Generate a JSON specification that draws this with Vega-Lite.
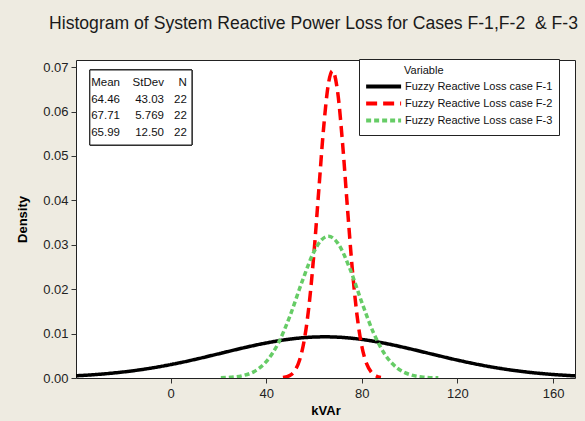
{
  "$schema": "https://vega.github.io/schema/vega-lite/v6.json",
  "width": 499,
  "height": 318,
  "autosize": {"type": "none"},
  "padding": {"left": 76, "top": 60, "right": 10, "bottom": 43},
  "background": "#EEEBE1",
  "title": {
    "text": "Histogram of System Reactive Power Loss for Cases F-1,F-2\u00a0 & F-3",
    "anchor": "middle",
    "font": "Liberation Sans",
    "fontSize": 17.6,
    "fontWeight": "normal",
    "color": "#1a1a1a",
    "offset": 26,
    "dx": -12
  },
  "datasets": {
    "curves": [
      {"case": "Fuzzy Reactive Loss case F-1", "x": -40, "d": 0.000487},
      {"case": "Fuzzy Reactive Loss case F-1", "x": -30, "d": 0.000833},
      {"case": "Fuzzy Reactive Loss case F-1", "x": -20, "d": 0.001351},
      {"case": "Fuzzy Reactive Loss case F-1", "x": -10, "d": 0.002075},
      {"case": "Fuzzy Reactive Loss case F-1", "x": 0, "d": 0.003019},
      {"case": "Fuzzy Reactive Loss case F-1", "x": 10, "d": 0.004162},
      {"case": "Fuzzy Reactive Loss case F-1", "x": 20, "d": 0.005436},
      {"case": "Fuzzy Reactive Loss case F-1", "x": 30, "d": 0.006728},
      {"case": "Fuzzy Reactive Loss case F-1", "x": 40, "d": 0.007888},
      {"case": "Fuzzy Reactive Loss case F-1", "x": 50, "d": 0.008762},
      {"case": "Fuzzy Reactive Loss case F-1", "x": 60, "d": 0.009221},
      {"case": "Fuzzy Reactive Loss case F-1", "x": 64.46, "d": 0.009271},
      {"case": "Fuzzy Reactive Loss case F-1", "x": 70, "d": 0.009195},
      {"case": "Fuzzy Reactive Loss case F-1", "x": 80, "d": 0.008686},
      {"case": "Fuzzy Reactive Loss case F-1", "x": 90, "d": 0.007774},
      {"case": "Fuzzy Reactive Loss case F-1", "x": 100, "d": 0.006591},
      {"case": "Fuzzy Reactive Loss case F-1", "x": 110, "d": 0.005296},
      {"case": "Fuzzy Reactive Loss case F-1", "x": 120, "d": 0.004030},
      {"case": "Fuzzy Reactive Loss case F-1", "x": 130, "d": 0.002906},
      {"case": "Fuzzy Reactive Loss case F-1", "x": 140, "d": 0.001986},
      {"case": "Fuzzy Reactive Loss case F-1", "x": 150, "d": 0.001285},
      {"case": "Fuzzy Reactive Loss case F-1", "x": 160, "d": 0.000788},
      {"case": "Fuzzy Reactive Loss case F-1", "x": 170, "d": 0.000458},
      {"case": "Fuzzy Reactive Loss case F-2", "x": 47, "d": 0.000110},
      {"case": "Fuzzy Reactive Loss case F-2", "x": 50, "d": 0.000622},
      {"case": "Fuzzy Reactive Loss case F-2", "x": 52, "d": 0.001697},
      {"case": "Fuzzy Reactive Loss case F-2", "x": 54, "d": 0.004106},
      {"case": "Fuzzy Reactive Loss case F-2", "x": 56, "d": 0.008814},
      {"case": "Fuzzy Reactive Loss case F-2", "x": 58, "d": 0.016773},
      {"case": "Fuzzy Reactive Loss case F-2", "x": 60, "d": 0.028310},
      {"case": "Fuzzy Reactive Loss case F-2", "x": 62, "d": 0.042374},
      {"case": "Fuzzy Reactive Loss case F-2", "x": 64, "d": 0.056234},
      {"case": "Fuzzy Reactive Loss case F-2", "x": 66, "d": 0.066181},
      {"case": "Fuzzy Reactive Loss case F-2", "x": 67.71, "d": 0.069153},
      {"case": "Fuzzy Reactive Loss case F-2", "x": 68, "d": 0.069066},
      {"case": "Fuzzy Reactive Loss case F-2", "x": 70, "d": 0.063915},
      {"case": "Fuzzy Reactive Loss case F-2", "x": 72, "d": 0.052445},
      {"case": "Fuzzy Reactive Loss case F-2", "x": 74, "d": 0.038166},
      {"case": "Fuzzy Reactive Loss case F-2", "x": 76, "d": 0.024627},
      {"case": "Fuzzy Reactive Loss case F-2", "x": 78, "d": 0.014091},
      {"case": "Fuzzy Reactive Loss case F-2", "x": 80, "d": 0.007150},
      {"case": "Fuzzy Reactive Loss case F-2", "x": 82, "d": 0.003217},
      {"case": "Fuzzy Reactive Loss case F-2", "x": 84, "d": 0.001284},
      {"case": "Fuzzy Reactive Loss case F-2", "x": 86, "d": 0.000454},
      {"case": "Fuzzy Reactive Loss case F-2", "x": 88, "d": 0.000142},
      {"case": "Fuzzy Reactive Loss case F-3", "x": 21, "d": 0.000049},
      {"case": "Fuzzy Reactive Loss case F-3", "x": 25, "d": 0.000148},
      {"case": "Fuzzy Reactive Loss case F-3", "x": 30, "d": 0.000506},
      {"case": "Fuzzy Reactive Loss case F-3", "x": 35, "d": 0.001477},
      {"case": "Fuzzy Reactive Loss case F-3", "x": 40, "d": 0.003675},
      {"case": "Fuzzy Reactive Loss case F-3", "x": 45, "d": 0.007793},
      {"case": "Fuzzy Reactive Loss case F-3", "x": 50, "d": 0.014081},
      {"case": "Fuzzy Reactive Loss case F-3", "x": 55, "d": 0.021684},
      {"case": "Fuzzy Reactive Loss case F-3", "x": 60, "d": 0.028453},
      {"case": "Fuzzy Reactive Loss case F-3", "x": 63, "d": 0.031015},
      {"case": "Fuzzy Reactive Loss case F-3", "x": 65.99, "d": 0.031915},
      {"case": "Fuzzy Reactive Loss case F-3", "x": 68, "d": 0.031505},
      {"case": "Fuzzy Reactive Loss case F-3", "x": 70, "d": 0.030314},
      {"case": "Fuzzy Reactive Loss case F-3", "x": 75, "d": 0.024613},
      {"case": "Fuzzy Reactive Loss case F-3", "x": 80, "d": 0.017031},
      {"case": "Fuzzy Reactive Loss case F-3", "x": 85, "d": 0.010041},
      {"case": "Fuzzy Reactive Loss case F-3", "x": 90, "d": 0.005044},
      {"case": "Fuzzy Reactive Loss case F-3", "x": 95, "d": 0.002159},
      {"case": "Fuzzy Reactive Loss case F-3", "x": 100, "d": 0.000788},
      {"case": "Fuzzy Reactive Loss case F-3", "x": 105, "d": 0.000245},
      {"case": "Fuzzy Reactive Loss case F-3", "x": 112, "d": 0.000037}
    ],
    "stats": [
      {"i": 0, "Mean": "Mean", "StDev": "StDev", "N": "N"},
      {"i": 1, "Mean": "64.46", "StDev": "43.03", "N": "22"},
      {"i": 2, "Mean": "67.71", "StDev": "5.769", "N": "22"},
      {"i": 3, "Mean": "65.99", "StDev": "12.50", "N": "22"}
    ]
  },
  "layer": [
    {
      "data": {"name": "curves"},
      "mark": {"type": "line", "interpolate": "monotone", "strokeWidth": 3.5, "clip": true, "strokeCap": "butt"},
      "encoding": {
        "x": {
          "field": "x", "type": "quantitative",
          "scale": {"domain": [-39.6, 169.2], "nice": false, "zero": false},
          "axis": {"values": [0, 40, 80, 120, 160], "title": "kVAr", "titlePadding": 4, "labelPadding": 4}
        },
        "y": {
          "field": "d", "type": "quantitative",
          "scale": {"domain": [0, 0.0716], "nice": false},
          "axis": {"values": [0, 0.01, 0.02, 0.03, 0.04, 0.05, 0.06, 0.07], "format": ".2f", "title": "Density", "titlePadding": 13, "labelPadding": 3}
        },
        "color": {
          "field": "case", "type": "nominal",
          "scale": {"domain": ["Fuzzy Reactive Loss case F-1", "Fuzzy Reactive Loss case F-2", "Fuzzy Reactive Loss case F-3"], "range": ["#000000", "#FF0000", "#66CC66"]},
          "legend": {"title": "Variable", "encode": {"title": {"update": {"dx": {"value": 39}}}}}
        },
        "strokeDash": {
          "field": "case", "type": "nominal",
          "scale": {"domain": ["Fuzzy Reactive Loss case F-1", "Fuzzy Reactive Loss case F-2", "Fuzzy Reactive Loss case F-3"], "range": [[1, 0], [11, 6], [5, 3]]},
          "legend": {"title": "Variable", "encode": {"title": {"update": {"dx": {"value": 39}}}}}
        }
      }
    },
    {
      "data": {"name": "stats"},
      "encoding": {
        "y": {"field": "i", "type": "quantitative", "scale": {"domain": [-1.377, 17.665], "reverse": true, "nice": false, "zero": false}, "axis": null}
      },
      "layer": [
        {
          "mark": {"type": "rect", "fill": "white", "stroke": "#222", "strokeWidth": 1},
          "encoding": {
            "x": {"datum": -33.8, "type": "quantitative"},
            "x2": {"datum": 8.9},
            "y": {"datum": -0.778, "type": "quantitative"},
            "y2": {"datum": 3.713}
          }
        },
        {
          "mark": {"type": "text", "align": "right", "baseline": "middle", "font": "Liberation Sans", "fontSize": 11.5, "color": "#111"},
          "encoding": {"x": {"datum": -21.2, "type": "quantitative"}, "text": {"field": "Mean"}}
        },
        {
          "mark": {"type": "text", "align": "right", "baseline": "middle", "font": "Liberation Sans", "fontSize": 11.5, "color": "#111"},
          "encoding": {"x": {"datum": -2.8, "type": "quantitative"}, "text": {"field": "StDev"}}
        },
        {
          "mark": {"type": "text", "align": "right", "baseline": "middle", "font": "Liberation Sans", "fontSize": 11.5, "color": "#111"},
          "encoding": {"x": {"datum": 6.8, "type": "quantitative"}, "text": {"field": "N"}}
        }
      ]
    }
  ],
  "resolve": {"scale": {"y": "independent"}, "axis": {"y": "independent"}},
  "config": {
    "view": {"stroke": "#222", "strokeWidth": 1, "fill": "white"},
    "axis": {
      "labelFont": "Liberation Sans", "labelFontSize": 13, "labelColor": "#222",
      "titleFont": "Liberation Sans", "titleFontSize": 13, "titleFontWeight": "bold", "titleColor": "#000",
      "tickColor": "#333", "tickSize": 5, "domain": false, "grid": false
    },
    "legend": {
      "orient": "none", "legendX": 283, "legendY": -1,
      "fillColor": "white", "strokeColor": "#222", "padding": 6,
      "titleFont": "Liberation Sans", "titleFontSize": 11, "titleFontWeight": "normal", "titleColor": "#111", "titlePadding": 5,
      "labelFont": "Liberation Sans", "labelFontSize": 11, "labelColor": "#111", "labelLimit": 300, "labelOffset": 29,
      "symbolType": "M-2,0H14", "symbolSize": 19.1, "symbolStrokeWidth": 4, "rowPadding": 0
    }
  }
}
